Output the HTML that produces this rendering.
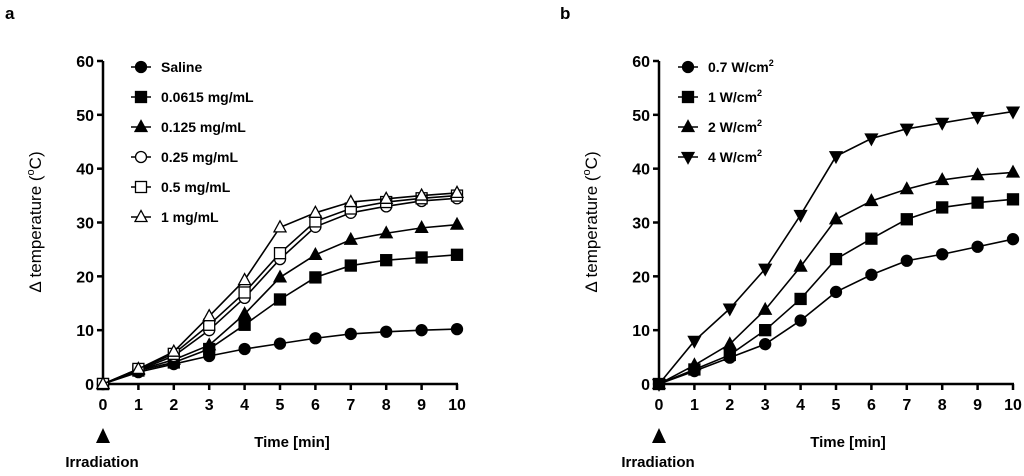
<!DOCTYPE html>
<html><head><meta charset="utf-8"><style>
body{margin:0;background:#fff;}
svg text{font-family:"Liberation Sans",Arial,sans-serif;font-weight:bold;fill:#000;}
</style></head><body>
<svg id="chart" width="1024" height="471" xmlns="http://www.w3.org/2000/svg"></svg>
<script>
const xTicks=[0,1,2,3,4,5,6,7,8,9,10];
const yTicks=[0,10,20,30,40,50,60];
const seriesNamesA=["Saline","0.0615 mg/mL","0.125 mg/mL","0.25 mg/mL","0.5 mg/mL","1 mg/mL"];
const saline=[0,2.2,3.7,5.2,6.5,7.5,8.5,9.3,9.7,10,10.2];
const c0615=[0,2.5,4,6.5,11,15.7,19.8,22,23,23.5,24];
const c125=[0,2.6,4.5,7.2,13,19.8,24,26.8,28,29,29.6];
const c25=[0,2.6,5.2,10,16,23.2,29.2,31.8,33,34,34.5];
const c5=[0,2.8,5.6,11,17,24.3,30.2,32.6,33.8,34.5,35];
const c1=[0,2.8,6,12.6,19.3,29.1,31.8,33.8,34.4,35,35.5];
const seriesNamesB=["0.7 W/cm","1 W/cm","2 W/cm","4 W/cm"];
const p07=[0,2.4,4.9,7.4,11.8,17.1,20.3,22.9,24.1,25.5,26.9];
const p1=[0,2.7,5.4,10,15.8,23.2,27,30.6,32.8,33.7,34.3];
const p2=[0,3.5,7.4,13.8,21.8,30.6,34,36.2,37.9,38.8,39.3];
const p4=[0,8,14,21.4,31.4,42.3,45.6,47.4,48.5,49.6,50.6];

const svg=document.getElementById('chart');
const NS="http://www.w3.org/2000/svg";
function mk(t,a,parent){const e=document.createElementNS(NS,t);for(const k in a)e.setAttribute(k,a[k]);(parent||svg).appendChild(e);return e;}
function marker(g,type,x,y){
  const s=5.5;
  if(type==='circle'||type==='ocircle')return mk('circle',{cx:x,cy:y,r:s,fill:type==='circle'?'#000':'#fff',stroke:'#000','stroke-width':1.3},g);
  if(type==='square'||type==='osquare')return mk('rect',{x:x-s,y:y-s,width:2*s,height:2*s,fill:type==='square'?'#000':'#fff',stroke:'#000','stroke-width':1.3},g);
  if(type==='tri'||type==='otri')return mk('polygon',{points:`${x},${y-s-1} ${x-s-0.5},${y+s-1} ${x+s+0.5},${y+s-1}`,fill:type==='tri'?'#000':'#fff',stroke:'#000','stroke-width':1.3},g);
  if(type==='dtri')return mk('polygon',{points:`${x},${y+s+1} ${x-s-0.5},${y-s+1} ${x+s+0.5},${y-s+1}`,fill:'#000',stroke:'#000','stroke-width':1.3},g);
}
function panel(id,x0,x1,letter,letterX,series,names,types,legX,sup){
  const y0=384,y1=61;
  const sx=v=>x0+(x1-x0)*v/10, sy=v=>y0-(y0-y1)*v/60;
  const g=mk('g',{});
  
  
  const L=mk('text',{x:letterX,y:19,'font-size':17},g);L.textContent=letter;
  
  const ax=mk('g',{},g);
  mk('line',{x1:x0,y1:y0+1,x2:x0,y2:y1,stroke:'#000','stroke-width':2.5},ax);
  yTicks.forEach(v=>{mk('line',{x1:x0-6,y1:sy(v),x2:x0,y2:sy(v),stroke:'#000','stroke-width':2.5},ax);
    const t=mk('text',{x:x0-9,y:sy(v)+6,'text-anchor':'end','font-size':16},ax);t.textContent=v;});
  const xa=mk('g',{},g);
  mk('line',{x1:x0-1,y1:y0,x2:x1+1,y2:y0,stroke:'#000','stroke-width':2.5},xa);
  xTicks.forEach(v=>{mk('line',{x1:sx(v),y1:y0,x2:sx(v),y2:y0+6,stroke:'#000','stroke-width':2.5},xa);
    const t=mk('text',{x:sx(v),y:y0+26,'text-anchor':'middle','font-size':16},xa);t.textContent=v;});
  const xt=mk('text',{x:(x0+x1)/2+12,y:447,'text-anchor':'middle','font-size':15},g);xt.textContent='Time [min]';
  
  const yt=mk('text',{transform:`translate(${x0-62},222) rotate(-90)`,'text-anchor':'middle','font-size':17},g);
  yt.style.fontWeight='normal';
  yt.innerHTML='Δ temperature (<tspan dy="-7" font-size="11">o</tspan><tspan dy="7">C)</tspan>';
  
  const ar=mk('polygon',{points:`${x0},${428} ${x0-7},${443} ${x0+7},${443}`,fill:'#000'},g);
  
  const ir=mk('text',{x:x0-1,y:467,'text-anchor':'middle','font-size':15},g);ir.textContent='Irradiation';
  
  series.forEach((d,i)=>{
    const sg=mk('g',{},g);
    
    
    mk('polyline',{points:d.map((v,k)=>sx(xTicks[k])+','+sy(v)).join(' '),fill:'none',stroke:'#000','stroke-width':1.6},sg);
    d.forEach((v,k)=>{const m=marker(sg,types[i],sx(xTicks[k]),sy(v));
      });
    const lg=mk('g',{},g);
    
    
    const ly=67+30*i;
    mk('line',{x1:legX-10,y1:ly,x2:legX+10,y2:ly,stroke:'#000','stroke-width':1.6},lg);
    marker(lg,types[i],legX,ly);
    const t=mk('text',{x:legX+20,y:ly+5,'font-size':14},lg);
    t.textContent=names[i];
    if(sup){const s=mk('tspan',{dy:-6,'font-size':9},t);s.textContent='2';}
  });
}
panel('a',103,457,'a',5,[saline,c0615,c125,c25,c5,c1],seriesNamesA,['circle','square','tri','ocircle','osquare','otri'],141,false);
panel('b',659,1013,'b',560,[p07,p1,p2,p4],seriesNamesB,['circle','square','tri','dtri'],688,true);
</script>
</body></html>
